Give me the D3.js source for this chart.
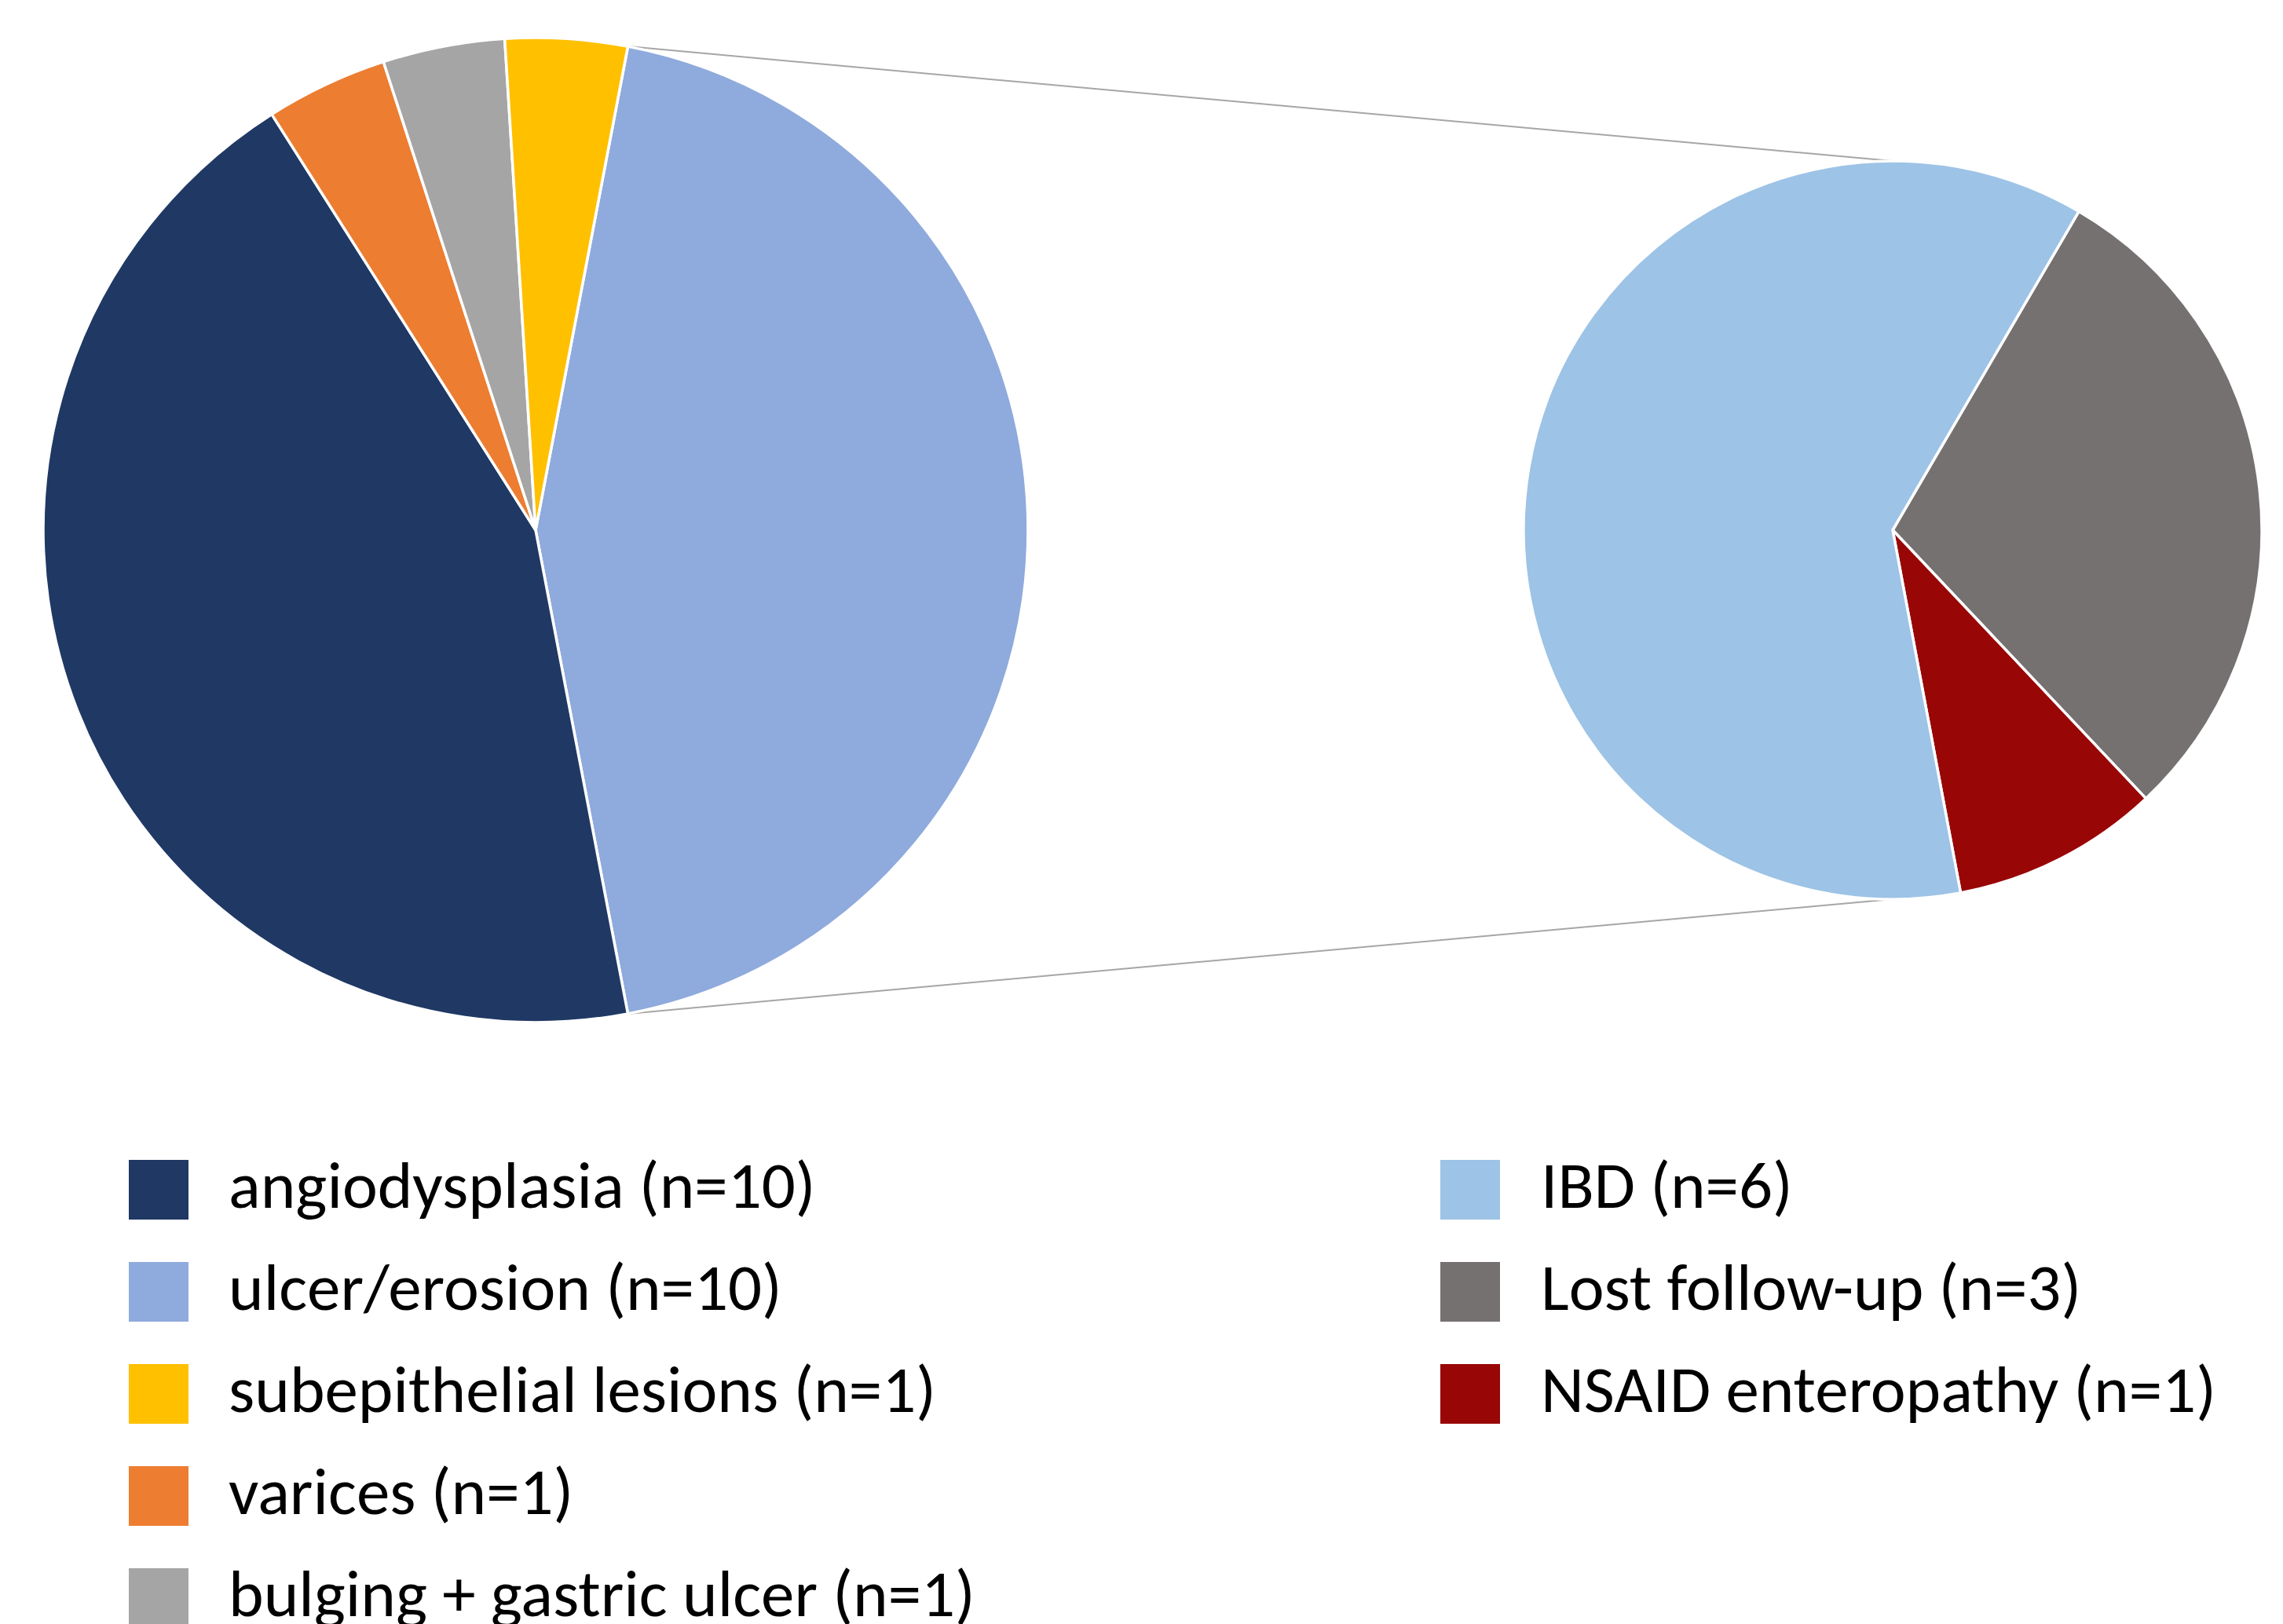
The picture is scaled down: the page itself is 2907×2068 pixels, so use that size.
<!DOCTYPE html>
<html>
<head>
<meta charset="utf-8">
<script src="https://cdn.jsdelivr.net/npm/d3@7"></script>
<style>
  html, body { margin: 0; padding: 0; background: #ffffff; }
  svg { display: block; }
  text { font-family: Carlito, Calibri, Lato, "Open Sans", sans-serif; fill: #000; }
</style>
</head>
<body>
<svg id="chart" width="2907" height="2068"></svg>
<script>
// ---- data ----
// main pie, clockwise from the split slice (percent of total)
const mainCategories = ["ulcer/erosion", "angiodysplasia", "varices", "bulging + gastric ulcer", "subepithelial lesions"];
const mainValues     = [44, 44, 4, 4, 4];
const mainColors     = ["#8FAADC", "#203864", "#ED7D31", "#A5A5A5", "#FFC000"];

// secondary pie (breakdown of ulcer/erosion), clockwise
const subCategories = ["Lost follow-up", "NSAID enteropathy", "IBD"];
const subValues     = [13, 4, 27];
const subColors     = ["#767171", "#990606", "#9DC3E6"];

// legend
const legendLeftNames  = ["angiodysplasia", "ulcer/erosion", "subepithelial lesions", "varices", "bulging + gastric ulcer"];
const legendLeftCounts = [10, 10, 1, 1, 1];
const legendRightNames  = ["IBD", "Lost follow-up", "NSAID enteropathy"];
const legendRightCounts = [6, 3, 1];

// ---- layout ----
const svg = d3.select("#chart");
const deg = Math.PI / 180;

const main = { cx: 682, cy: 675, r: 627 };
const sub  = { cx: 2410, cy: 675, r: 470 };

const colorOf = new Map();
mainCategories.forEach((c, i) => colorOf.set(c, mainColors[i]));
subCategories.forEach((c, i) => colorOf.set(c, subColors[i]));

// main pie: split slice centred on the right (90deg)
const splitFrac = mainValues[0] / d3.sum(mainValues);
const mainStart = Math.PI / 2 - splitFrac * Math.PI;
const mainPie = d3.pie().sort(null).value(d => d.value)
  .startAngle(mainStart).endAngle(mainStart + 2 * Math.PI);
const mainArcs = mainPie(mainCategories.map((c, i) => ({ name: c, value: mainValues[i] })));
const mainArc = d3.arc().innerRadius(0).outerRadius(main.r);

const subStart = 30.3 * deg;
const subPie = d3.pie().sort(null).value(d => d.value)
  .startAngle(subStart).endAngle(subStart + 2 * Math.PI);
const subArcs = subPie(subCategories.map((c, i) => ({ name: c, value: subValues[i] })));
const subArc = d3.arc().innerRadius(0).outerRadius(sub.r);

// connector lines
const split = mainArcs[0];
const p1 = d3.pointRadial(split.startAngle, main.r);
const p2 = d3.pointRadial(split.endAngle, main.r);
const q1 = d3.pointRadial(0, sub.r);
const q2 = d3.pointRadial(Math.PI, sub.r);
const connectors = [
  [[main.cx + p1[0], main.cy + p1[1]], [sub.cx + q1[0], sub.cy + q1[1]]],
  [[main.cx + p2[0], main.cy + p2[1]], [sub.cx + q2[0], sub.cy + q2[1]]]
];
svg.append("g").selectAll("line").data(connectors).join("line")
  .attr("x1", d => d[0][0]).attr("y1", d => d[0][1])
  .attr("x2", d => d[1][0]).attr("y2", d => d[1][1])
  .attr("stroke", "#A6A6A6").attr("stroke-width", 2);

svg.append("g").attr("transform", `translate(${main.cx},${main.cy})`)
  .selectAll("path").data(mainArcs).join("path")
  .attr("d", mainArc)
  .attr("fill", d => colorOf.get(d.data.name))
  .attr("stroke", "#ffffff").attr("stroke-width", 3.5).attr("stroke-linejoin", "round");

svg.append("g").attr("transform", `translate(${sub.cx},${sub.cy})`)
  .selectAll("path").data(subArcs).join("path")
  .attr("d", subArc)
  .attr("fill", d => colorOf.get(d.data.name))
  .attr("stroke", "#ffffff").attr("stroke-width", 3.5).attr("stroke-linejoin", "round");

// legend
const rowY = d3.scaleLinear().domain([0, 1]).range([1477, 1607]);
const sq = 76;
function legend(names, counts, x0, textX) {
  const g = svg.append("g");
  const rows = g.selectAll("g").data(names.map((n, i) => ({ name: n, n: counts[i], i })))
    .join("g").attr("transform", d => `translate(0,${rowY(d.i)})`);
  rows.append("rect").attr("x", x0).attr("y", 0).attr("width", sq).attr("height", sq)
    .attr("fill", d => colorOf.get(d.name));
  rows.append("text").attr("x", textX).attr("y", 61)
    .attr("font-size", 85)
    .text(d => `${d.name} (n=${d.n})`);
}
legend(legendLeftNames, legendLeftCounts, 164, 291);
legend(legendRightNames, legendRightCounts, 1834, 1962);
</script>
</body>
</html>
